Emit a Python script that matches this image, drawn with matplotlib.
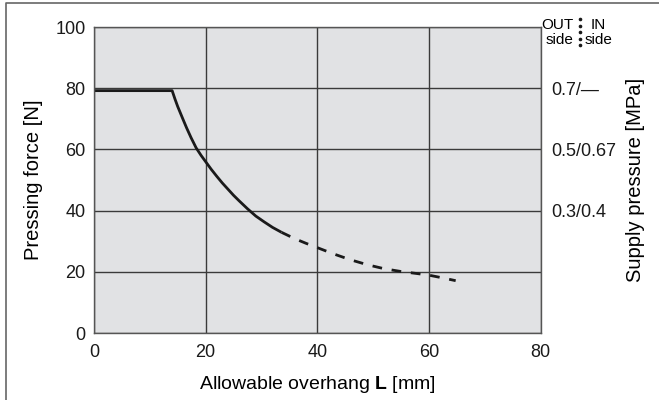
import matplotlib
matplotlib.use("Agg")
import matplotlib.pyplot as plt
from matplotlib.lines import Line2D

plt.rcParams['font.family'] = ['Liberation Sans', 'DejaVu Sans']
plt.rcParams['mathtext.fontset'] = 'custom'
plt.rcParams['mathtext.bf'] = 'Liberation Sans:bold'
plt.rcParams['mathtext.rm'] = 'Liberation Sans'

# Data
solid_x = [0, 14.0, 14.5, 15.0, 15.5, 16.0, 16.6, 17.4, 18.3, 19.2, 20.0, 21.0, 22.0,
           23.0, 24.0, 25.0, 26.0, 27.5, 29.0, 30.5, 32.0, 33.6]
solid_y = [79.2, 79.2, 76.5, 74.0, 71.8, 69.6, 67.0, 63.8, 60.5, 58.0, 56.0, 53.5, 51.2,
           49.0, 47.0, 45.0, 43.2, 40.6, 38.2, 36.3, 34.5, 32.9]
dash_x = [33.6, 36.0, 38.0, 40.0, 43.0, 46.0, 49.0, 52.0, 55.0, 58.0, 60.0, 62.5, 64.8]
dash_y = [32.9, 30.8, 29.3, 27.9, 25.8, 23.9, 22.3, 21.0, 20.1, 19.4, 18.9, 18.0, 17.1]

x_ticks = [0, 20, 40, 60, 80]
y_ticks = [0, 20, 40, 60, 80, 100]
right_ticks = [80, 60, 40]
right_labels = ["0.7/\u2014", "0.5/0.67", "0.3/0.4"]

fig = plt.figure(figsize=(6.59, 4.0), dpi=100)
ax = fig.add_axes([94/659, 1-333/400, (540.5-94)/659, (333-27)/400])
ax.set_facecolor('#e1e2e4')
ax.set_xlim(0, 80)
ax.set_ylim(0, 100)
ax.set_xticks(x_ticks)
ax.set_yticks(y_ticks)
ax.grid(True, color='#3a3a3a', linewidth=1.0)
ax.set_axisbelow(True)
for s in ax.spines.values():
    s.set_color('#555555')
    s.set_linewidth(1.0)
ax.tick_params(axis='y', length=0, labelsize=13, pad=6, colors='#1a1a1a')
ax.tick_params(axis='x', length=0, labelsize=13, pad=8, colors='#1a1a1a')

ax.plot(solid_x, solid_y, color='#1a1a1a', linewidth=2.0, solid_capstyle='butt',
        solid_joinstyle='round')
ax.plot(dash_x, dash_y, color='#1a1a1a', linewidth=2.0, linestyle=(0, (3.5, 3.5)))

ax.set_ylabel("Pressing force [N]", fontsize=14.5, labelpad=9)
ax.set_xlabel(r"Allowable overhang $\mathbf{L}$ [mm]", fontsize=14, labelpad=9)

ax2 = ax.twinx()
ax2.set_ylim(0, 100)
ax2.set_yticks(right_ticks)
ax2.set_yticklabels(right_labels)
ax2.tick_params(length=0, labelsize=13, pad=8, colors='#1a1a1a')
for s in ax2.spines.values():
    s.set_visible(False)
ax2.set_ylabel("Supply pressure [MPa]", fontsize=14.5, labelpad=7)

# OUT / IN header
fs = 11
fig.text(573/659, 1-25/400, "OUT", fontsize=fs, ha='right', va='center')
fig.text(573/659, 1-40/400, "side", fontsize=fs, ha='right', va='center')
fig.text(591/659, 1-25/400, "IN", fontsize=fs, ha='left', va='center')
fig.text(585/659, 1-40/400, "side", fontsize=fs, ha='left', va='center')
dot_y = [19, 25.5, 32, 38.5, 45]
fig.add_artist(Line2D([580/659] * len(dot_y), [1 - v/400 for v in dot_y], color='#1a1a1a',
                      linestyle='none', marker='o', markersize=1.6,
                      transform=fig.transFigure))

# outer frame (left and top)
fig.add_artist(Line2D([6/659, 6/659, 1], [0, 1-3/400, 1-3/400], color='#666666',
                      linewidth=1.2, transform=fig.transFigure))

fig.savefig("out.png", dpi=100)
